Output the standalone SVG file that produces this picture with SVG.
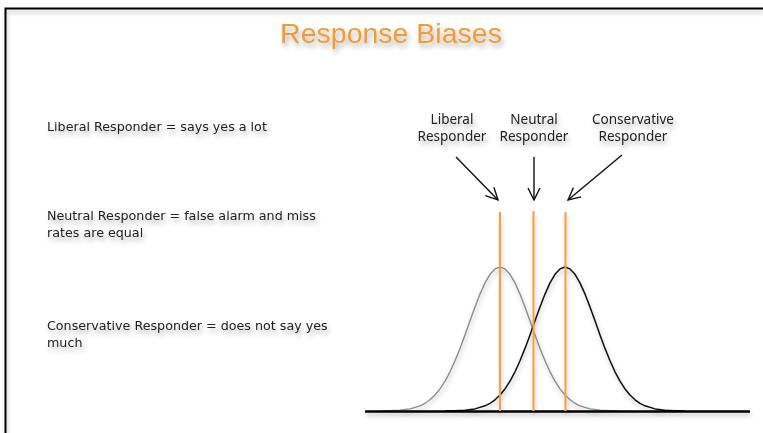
<svg xmlns="http://www.w3.org/2000/svg" xmlns:xlink="http://www.w3.org/1999/xlink" width="763" height="433" viewBox="0 0 763 433">
<style>
.title{font-family:"Liberation Sans",Arial,sans-serif;font-size:28.5px;fill:#F39A33}
.txt{font-family:"DejaVu Sans","Noto Sans",sans-serif;font-size:12.7px;fill:#222}
.lbl{font-family:"Noto Sans","Open Sans",sans-serif;font-size:13.5px;fill:#222;text-anchor:middle}
.crit{stroke:#F5A03C;stroke-width:2;fill:none}
.arrow{stroke:#111;stroke-width:1.4;fill:none;marker-end:url(#vhead)}
</style>
<defs>
<filter id="sh" x="-10%" y="-30%" width="120%" height="180%">
<feDropShadow dx="2" dy="4" stdDeviation="2.5" flood-color="#000" flood-opacity="0.3"/>
</filter>
<filter id="sh2" x="-10%" y="-10%" width="120%" height="130%">
<feDropShadow dx="1" dy="3" stdDeviation="2" flood-color="#000" flood-opacity="0.25"/>
</filter>
<marker id="vhead" viewBox="0 0 14 14" refX="13" refY="7" markerWidth="14" markerHeight="14" markerUnits="userSpaceOnUse" orient="auto">
<path d="M1,1 L13,7 L1,13" stroke="#111" stroke-width="1.4" fill="none"/>
</marker>
<path id="bell" d="M-120,411 L-110,410.7 L-100,410.2 L-90,408.9 L-80,405.8 L-75,403.3 L-70,399.8 L-65,395 L-60,388.9 L-55,381.2 L-50,371.8 L-45,360.8 L-40,348.4 L-35,334.9 L-30,320.8 L-25,307 L-20,294.1 L-15,282.9 L-10,274.3 L-5,268.9 L0,267 L5,268.9 L10,274.3 L15,282.9 L20,294.1 L25,307 L30,320.8 L35,334.9 L40,348.4 L45,360.8 L50,371.8 L55,381.2 L60,388.9 L65,395 L70,399.8 L75,403.3 L80,405.8 L90,408.9 L100,410.2 L110,410.7 L120,411" fill="none" stroke-linejoin="round"/>
</defs>
<rect width="763" height="433" fill="#fff"/>
<g id="frame" filter="url(#sh2)">
<path d="M5.5,433 V8.5 H763" fill="none" stroke="#000" stroke-width="2"/>
</g>
<g id="title" filter="url(#sh)">
<text class="title" x="391" y="43" text-anchor="middle">Response Biases</text>
</g>
<g id="definitions" filter="url(#sh)">
<g id="def-liberal"><text class="txt" x="47" y="131">Liberal Responder = says yes a lot</text></g>
<g id="def-neutral"><text class="txt" x="47" y="220">Neutral Responder = false alarm and miss</text><text class="txt" x="47" y="237">rates are equal</text></g>
<g id="def-conservative"><text class="txt" x="47" y="330">Conservative Responder = does not say yes</text><text class="txt" x="47" y="347">much</text></g>
</g>
<g id="labels" filter="url(#sh)">
<g id="lbl-liberal"><text class="lbl" x="452" y="124">Liberal</text><text class="lbl" x="452" y="141">Responder</text></g>
<g id="lbl-neutral"><text class="lbl" x="534" y="124">Neutral</text><text class="lbl" x="534" y="141">Responder</text></g>
<g id="lbl-conservative"><text class="lbl" x="633" y="124">Conservative</text><text class="lbl" x="633" y="141">Responder</text></g>
</g>
<g id="graph" filter="url(#sh2)">
<g id="noise-curve"><use xlink:href="#bell" x="500" stroke="#8c8c8c" stroke-width="1.4"/></g>
<g id="signal-curve"><use xlink:href="#bell" x="565" stroke="#111" stroke-width="1.5"/></g>
<g id="axis"><line x1="365" y1="411.5" x2="750" y2="411.5" stroke="#000" stroke-width="2.5"/></g>
<g id="crit-liberal"><line class="crit" x1="500" y1="212" x2="500" y2="411"/></g>
<g id="crit-neutral"><line class="crit" x1="533.5" y1="211" x2="533.5" y2="411"/></g>
<g id="crit-conservative"><line class="crit" x1="565.5" y1="212" x2="565.5" y2="411"/></g>
</g>
<g id="connectors">
<path class="arrow" d="M456,157 L498,200"/>
<path class="arrow" d="M534,157 L534,200"/>
<path class="arrow" d="M622,155 L568,200"/>
</g>
</svg>
